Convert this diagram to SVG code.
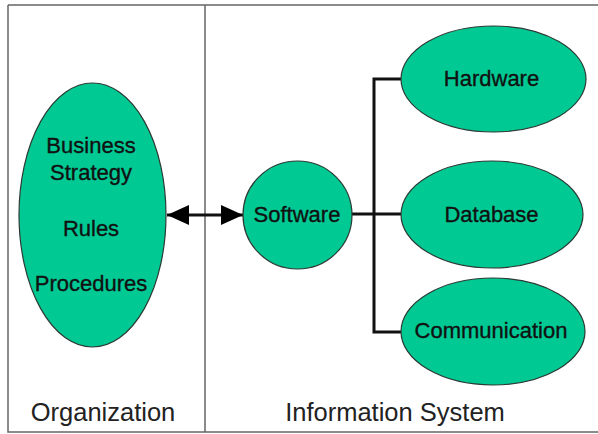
<svg xmlns="http://www.w3.org/2000/svg" width="598" height="434" viewBox="0 0 598 434">
<style>
.node{fill:#00c994;stroke:#2b3a33;stroke-width:1.2}
.lbl{font-family:"Liberation Sans",Arial,sans-serif;font-size:22px;fill:#111;stroke:#111;stroke-width:0.35;text-anchor:middle}
.cap{font-family:"Liberation Sans",Arial,sans-serif;font-size:25.5px;fill:#222;text-anchor:middle}
.frame{fill:none;stroke:#666;stroke-width:1.5}
.conn{fill:none;stroke:#111;stroke-width:3}
</style>
<defs>
<marker id="ah" viewBox="0 0 22 20" refX="22" refY="10" markerWidth="22" markerHeight="20" markerUnits="userSpaceOnUse" orient="auto-start-reverse">
<path d="M0,0 L22,10 L0,20 Z" fill="#000"/>
</marker>
</defs>
<rect width="598" height="434" fill="#fff"/>
<g id="frame">
<path class="frame" d="M8,5 H598 M8,5 V432 H598 M205,5 V432"/>
</g>
<g id="connectors">
<line class="conn" x1="167" y1="215" x2="243" y2="215" marker-start="url(#ah)" marker-end="url(#ah)"/>
<path class="conn" d="M352,214 H401 M401,79 H374 V332 H401"/>
</g>
<g id="org">
<ellipse class="node" cx="92.5" cy="215" rx="73.5" ry="132"/>
<text class="lbl" x="91" y="153">Business</text>
<text class="lbl" x="91" y="180">Strategy</text>
<text class="lbl" x="91" y="236">Rules</text>
<text class="lbl" x="91" y="291">Procedures</text>
</g>
<g id="software">
<ellipse class="node" cx="297.5" cy="215" rx="54.5" ry="54"/>
<text class="lbl" x="297" y="222">Software</text>
</g>
<g id="hardware">
<ellipse class="node" cx="493.5" cy="79" rx="92.5" ry="53"/>
<text class="lbl" x="491.5" y="86">Hardware</text>
</g>
<g id="database">
<ellipse class="node" cx="492" cy="214.5" rx="91" ry="53.5"/>
<text class="lbl" x="491.5" y="222">Database</text>
</g>
<g id="communication">
<ellipse class="node" cx="493" cy="331.5" rx="92" ry="53.5"/>
<text class="lbl" x="491" y="338">Communication</text>
</g>
<g id="captions">
<text class="cap" x="103" y="421">Organization</text>
<text class="cap" x="395" y="421">Information System</text>
</g>
</svg>
